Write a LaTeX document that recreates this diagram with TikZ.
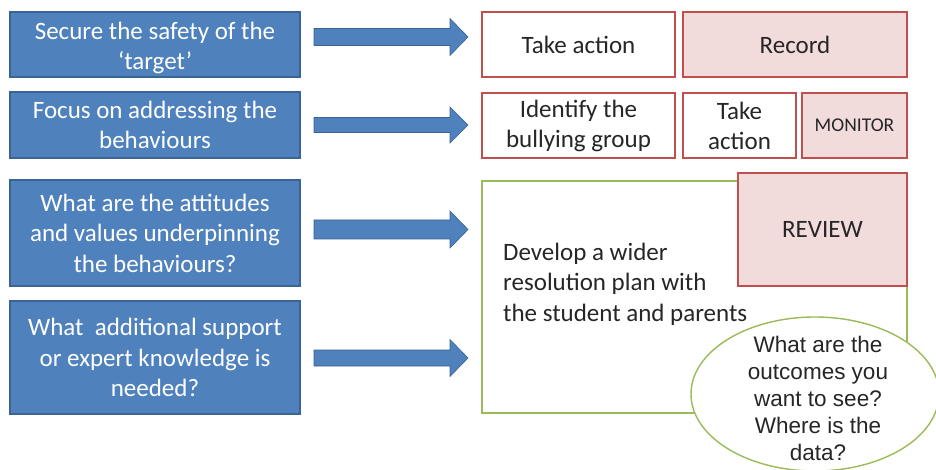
\documentclass[tikz,border=0pt]{standalone}
\usepackage{fontspec}
\setmainfont{Carlito}
\newfontfamily\arialf{Liberation Sans}
\definecolor{bluefill}{HTML}{4F81BD}
\definecolor{blueline}{HTML}{3A6496}
\definecolor{redline}{HTML}{C0504D}
\definecolor{pinkfill}{HTML}{F2DCDB}
\definecolor{greenline}{HTML}{9BBB59}
\definecolor{darktext}{HTML}{262626}
\begin{document}
\begin{tikzpicture}[x=1pt,y=-1pt,
  bluebox/.style={draw=blueline,line width=1.2pt,fill=bluefill,text=white,align=center,
    font=\fontsize{25}{30.5}\selectfont,inner sep=0pt},
  redbox/.style={draw=redline,line width=1.4pt,fill=white,text=darktext,align=center,
    font=\fontsize{25}{30}\selectfont,inner sep=0pt},
  pinkbox/.style={redbox,fill=pinkfill},
  blockarrow/.style={fill=bluefill,draw=blueline,line width=0.6pt}]
\clip (0,0) rectangle (936,470);
\fill[white] (0,0) rectangle (936,470);
% blue boxes
\node[bluebox,minimum width=290pt,minimum height=65pt] (b1) at (155,44.5) {};
\node[bluebox,draw=none,fill=none] (b1t) at (155,48) {Secure the safety of the\\‘target’};
\node[bluebox,minimum width=290pt,minimum height=66pt] (b2) at (155,125) {Focus on addressing the\\behaviours};
\node[bluebox,minimum width=290pt,minimum height=106pt] (b3) at (155,233) {What are the attitudes\\and values underpinning\\the behaviours?};
\node[bluebox,minimum width=290pt,minimum height=113pt] (b4) at (155,357.5) {What\ \ additional support\\or expert knowledge is\\needed?};
% block arrows
\foreach \yc/\sh/\hh in {37/8.5/18.5, 125/7.5/18, 229.5/9.5/18.5, 358/8/18.5}{
  \draw[blockarrow] (314,\yc-\sh) -- (450,\yc-\sh) -- (450,\yc-\hh) -- (468,\yc)
    -- (450,\yc+\hh) -- (450,\yc+\sh) -- (314,\yc+\sh) -- cycle;
}
% right side row 1
\node[redbox,minimum width=193pt,minimum height=65pt] (ta1) at (578.5,44.5) {Take action};
\node[pinkbox,minimum width=224pt,minimum height=65pt] (rec) at (795,44.5) {Record};
% row 2
\node[redbox,minimum width=193pt,minimum height=65pt] (ident) at (578.5,125.5) {Identify the\\bullying group};
\node[redbox,minimum width=113pt,minimum height=65pt] (ta2) at (739.5,125.5) {Take\\action};
\node[pinkbox,minimum width=105pt,minimum height=65pt,font=\fontsize{19.5}{22}\selectfont] (mon) at (854.5,125.5) {MONITOR};
% green box
\draw[greenline,line width=1.4pt,fill=white] (482,181) rectangle (907,413);
\node[anchor=west,align=left,text=darktext,font=\fontsize{25}{30.5}\selectfont,inner sep=0pt] (dev) at (503,284)
  {Develop a wider\\resolution plan with\\the student and parents};
\node[pinkbox,minimum width=169pt,minimum height=113pt] (rev) at (822.5,229.5) {};
\node[text=darktext,font=\fontsize{25}{30}\selectfont] at (822.5,229) {REVIEW};
% ellipse
\draw[greenline,line width=1.4pt,fill=white] (815,394) ellipse [x radius=124,y radius=77];
\node[align=center,text=darktext,font=\arialf\fontsize{22.5}{27}\selectfont,inner sep=0pt] (q) at (818,398)
  {What are the\\outcomes you\\want to see?\\Where is the\\data?};
\end{tikzpicture}
\end{document}
